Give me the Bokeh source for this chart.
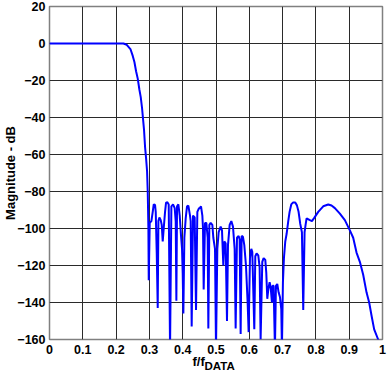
from bokeh.plotting import figure
from bokeh.models import Range1d, FixedTicker, Title
from bokeh.embed import file_html
from bokeh.resources import INLINE

# ---- data ----
pass_f = [0.0, 0.05, 0.10, 0.15, 0.20, 0.222]
pass_db = [0, 0, 0, 0, 0, 0]

trans_f = [0.232, 0.243, 0.250, 0.255, 0.260, 0.265, 0.270, 0.274, 0.278, 0.281,
           0.284, 0.287, 0.290, 0.293, 0.295, 0.297, 0.298]
trans_db = [-0.7, -3, -6.7, -10, -15, -19, -25, -29, -35, -41,
            -47, -56, -62, -69, -80, -100, -128]

stop1_f = [0.301, 0.306, 0.310, 0.313, 0.317, 0.319, 0.322, 0.325, 0.327, 0.330,
           0.334, 0.337, 0.340, 0.343, 0.347, 0.350, 0.354, 0.358, 0.362, 0.366,
           0.371, 0.376, 0.379, 0.381, 0.383, 0.387, 0.391, 0.395, 0.398, 0.400,
           0.402, 0.405, 0.409, 0.413, 0.417, 0.422, 0.424, 0.427, 0.431, 0.436,
           0.440, 0.444, 0.449]
stop1_db = [-97, -96, -91, -87, -87.3, -91, -113, -143, -96, -94,
            -95.5, -98, -107, -100, -91, -86, -85.8, -87, -165, -88,
            -87, -89, -96, -139, -88, -87, -93, -104, -111, -124,
            -146, -105, -94.5, -88, -87.6, -93, -96, -153, -93, -94,
            -144, -91, -89]

stop2_f = [0.451, 0.455, 0.459, 0.461, 0.463, 0.467, 0.471, 0.475, 0.477, 0.480,
           0.484, 0.489, 0.492, 0.497, 0.500, 0.504, 0.508, 0.514, 0.518, 0.522,
           0.525, 0.529, 0.533, 0.536, 0.541, 0.546, 0.551, 0.556, 0.559, 0.563,
           0.568, 0.571, 0.574, 0.577, 0.581, 0.585, 0.590, 0.595, 0.598, 0.602,
           0.606]
stop2_db = [-89, -88, -93, -100, -133, -97, -97, -105, -154, -98,
            -97, -98, -105, -111, -165, -111, -102, -99, -101, -120,
            -107, -108, -150, -109, -98, -96, -99, -111, -154, -105,
            -104, -106, -157, -104, -104.5, -109, -120, -140, -156, -116,
            -111]

stop3_f = [0.609, 0.615, 0.618, 0.622, 0.627, 0.631, 0.634, 0.639, 0.643, 0.648,
           0.651, 0.654, 0.657, 0.661, 0.664, 0.668, 0.670, 0.673, 0.677, 0.680,
           0.684, 0.688, 0.692, 0.696, 0.698]
stop3_db = [-112.7, -154.5, -115, -113.5, -114.5, -121, -160, -118, -116, -117,
            -124, -138, -133, -129, -131.5, -140, -131, -131, -165, -131,
            -130, -134.5, -137, -143.6, -165]

upper_f = [0.701, 0.704, 0.708, 0.712, 0.717, 0.721, 0.726, 0.731, 0.738, 0.743,
           0.748, 0.753, 0.758, 0.762, 0.766, 0.769, 0.772, 0.782, 0.788, 0.794,
           0.807, 0.822, 0.837, 0.847, 0.857, 0.872, 0.887, 0.902, 0.912, 0.922,
           0.932, 0.942, 0.952, 0.960, 0.967, 0.975, 0.987, 0.995]
upper_db = [-129, -116, -107, -103, -96, -91, -87, -86, -86, -87.5,
            -91, -97.5, -102, -144, -102, -98, -94.5, -95.5, -96, -94.5,
            -91, -88, -87, -87.6, -89, -92, -95.5, -101, -105, -113,
            -118, -125, -134.5, -140, -147, -154.5, -160, -166]

x_ticks = [0, 0.1, 0.2, 0.3, 0.4, 0.5, 0.6, 0.7, 0.8, 0.9, 1]
y_ticks = [-160, -140, -120, -100, -80, -60, -40, -20, 0, 20]

freq = pass_f + trans_f + stop1_f + stop2_f + stop3_f + upper_f
mag = pass_db + trans_db + stop1_db + stop2_db + stop3_db + upper_db

FONT = "Liberation Sans"

p = figure(width=388, height=380, output_backend="svg", toolbar_location=None,
           x_range=Range1d(0, 1), y_range=Range1d(-160, 20),
           min_border_left=44, min_border_right=6, min_border_top=6, min_border_bottom=41,
           background_fill_color="white", border_fill_color="white")

p.outline_line_color = "#808080"
p.outline_line_width = 1.5

p.xaxis.ticker = FixedTicker(ticks=x_ticks)
p.yaxis.ticker = FixedTicker(ticks=y_ticks)
p.xgrid.ticker = FixedTicker(ticks=x_ticks)
p.ygrid.ticker = FixedTicker(ticks=y_ticks)
p.xaxis.major_label_overrides = {0: "0", 1: "1"}

for g in (p.xgrid, p.ygrid):
    g.grid_line_color = "#2a2a2a"
    g.grid_line_width = 1
    g.grid_line_alpha = 1

for ax in (p.xaxis, p.yaxis):
    ax.axis_line_color = None
    ax.major_tick_line_color = None
    ax.minor_tick_line_color = None
    ax.major_tick_out = 0
    ax.major_tick_in = 0
    ax.major_label_text_font = FONT
    ax.major_label_text_font_style = "bold"
    ax.major_label_text_font_size = "12.5px"
    ax.major_label_text_color = "black"
    ax.major_label_standoff = 5

p.yaxis.major_label_standoff = 4
p.yaxis.axis_label = "Magnitude - dB"
p.yaxis.axis_label_text_font = FONT
p.yaxis.axis_label_text_font_style = "bold"
p.yaxis.axis_label_text_font_size = "13px"
p.yaxis.axis_label_text_color = "black"
p.yaxis.axis_label_standoff = -4

t1 = Title(text="f/f", align="left", offset=143, standoff=-8, vertical_align="middle",
           text_font=FONT, text_font_style="bold", text_font_size="13px", text_color="black")
t2 = Title(text="DATA", align="left", offset=155, standoff=-13, vertical_align="middle",
           text_font=FONT, text_font_style="bold", text_font_size="11.5px", text_color="black")
p.add_layout(t1, "below")
p.add_layout(t2, "below")

p.line(freq, mag, line_color="#0000FF", line_width=2)

open("out.html", "w").write(file_html(p, INLINE))
